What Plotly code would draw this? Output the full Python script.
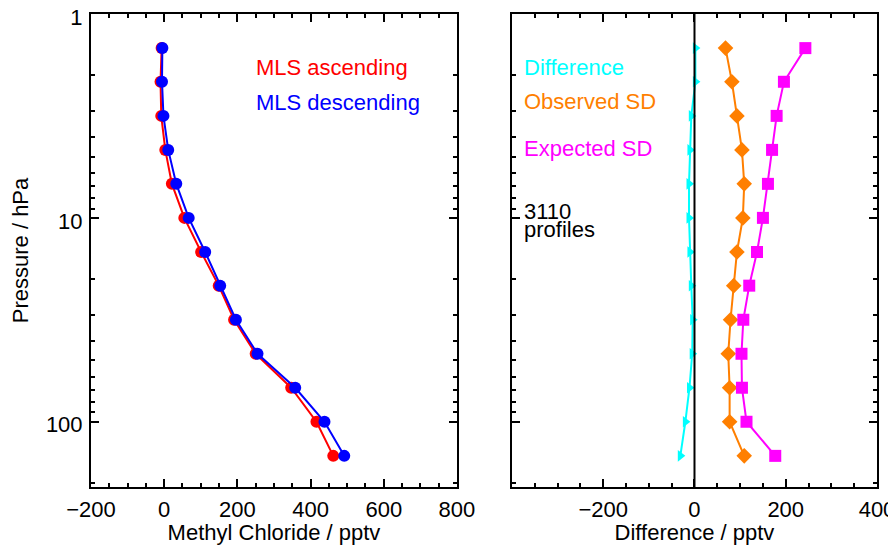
import math
import plotly.graph_objects as go

pressure = [1.47, 2.15, 3.16, 4.64, 6.81, 10.0, 14.7, 21.5, 31.6, 46.4, 68.1, 100.0, 147.0]
mls_ascending = [-7, -10, -8, 3, 21, 55, 101, 149, 191, 250, 347, 416, 462]
mls_descending = [-5, -6, -2, 11, 33, 67, 112, 153, 196, 255, 358, 438, 492]
difference = [2, 2, -7, -10, -12, -12, -10, -7, -4, -5, -11, -20, -31]
observed_sd = [68, 82, 93, 104, 109, 106, 93, 86, 79, 74, 77, 77, 109]
expected_sd = [243, 196, 180, 170, 161, 150, 137, 120, 107, 103, 104, 114, 177]

left_xticks = [-200, 0, 200, 400, 600, 800]
right_xticks = [-200, 0, 200, 400]
y_ticks = [1, 10, 100]
y_minor = [2, 3, 4, 5, 6, 7, 8, 9, 20, 30, 40, 50, 60, 70, 80, 90, 200]

FONT = "Liberation Sans, Arial, Helvetica, sans-serif"
fs = 22

fig = go.Figure()
fig.add_trace(go.Scatter(x=mls_ascending, y=pressure, mode="lines+markers",
                         line=dict(color="#FF0000", width=2),
                         marker=dict(symbol="circle", size=12, color="#FF0000"),
                         xaxis="x", yaxis="y", showlegend=False))
fig.add_trace(go.Scatter(x=mls_descending, y=pressure, mode="lines+markers",
                         line=dict(color="#0000FF", width=2),
                         marker=dict(symbol="circle", size=12, color="#0000FF"),
                         xaxis="x", yaxis="y", showlegend=False))
fig.add_trace(go.Scatter(x=difference, y=pressure, mode="lines+markers",
                         line=dict(color="#00FFFF", width=2),
                         marker=dict(symbol="triangle-right", size=10, color="#00FFFF"),
                         xaxis="x2", yaxis="y2", showlegend=False))
fig.add_trace(go.Scatter(x=observed_sd, y=pressure, mode="lines+markers",
                         line=dict(color="#FF7F00", width=2),
                         marker=dict(symbol="diamond", size=12, color="#FF7F00"),
                         xaxis="x2", yaxis="y2", showlegend=False))
fig.add_trace(go.Scatter(x=expected_sd, y=pressure, mode="lines+markers",
                         line=dict(color="#FF00FF", width=2),
                         marker=dict(symbol="square", size=12, color="#FF00FF"),
                         xaxis="x2", yaxis="y2", showlegend=False))

axis_common = dict(showline=True, linecolor="black", linewidth=2, mirror="allticks",
                   ticks="inside", ticklen=8, tickwidth=2, tickcolor="black",
                   showgrid=False, zeroline=False, automargin=False,
                   ticklabeloverflow="allow",
                   tickfont=dict(family=FONT, size=fs, color="black"))
minor_common = dict(ticks="inside", ticklen=4, tickwidth=2, tickcolor="black", showgrid=False)

ymin_log = 2.32
fig.update_layout(
    width=888, height=537,
    margin=dict(l=83, r=19, t=6, b=58),
    paper_bgcolor="white", plot_bgcolor="white",
    font=dict(family=FONT, size=fs, color="black"),
    xaxis=dict(domain=[0, 0.4656], range=[-200, 800], tickvals=left_xticks,
               minor=dict(dtick=50, tick0=0, **minor_common),
               title=dict(text="Methyl Chloride / pptv", font=dict(size=fs), standoff=0),
               anchor="y", ticklabelstandoff=2, **axis_common),
    yaxis=dict(type="log", range=[ymin_log, 0], tickvals=y_ticks, ticktext=["1", "10", "100"],
               minor=dict(tickvals=y_minor, **minor_common),
               title=dict(text="Pressure / hPa", font=dict(size=fs), standoff=12),
               anchor="x", ticklabelstandoff=2, ticklabelshift=-3, **axis_common),
    xaxis2=dict(domain=[0.5356, 1], range=[-400, 400], tickvals=right_xticks,
                minor=dict(dtick=50, tick0=0, **minor_common),
                title=dict(text="Difference / pptv", font=dict(size=fs), standoff=0),
                anchor="y2", ticklabelstandoff=2, **axis_common),
    yaxis2=dict(type="log", range=[ymin_log, 0], tickvals=y_ticks, showticklabels=False,
                minor=dict(tickvals=y_minor, **minor_common),
                anchor="x2", **axis_common),
)

fig.add_shape(type="line", xref="x2", yref="y2 domain", x0=0, x1=0, y0=0, y1=1,
              line=dict(color="black", width=2))

def label(text, x, y, color, xref, yref):
    fig.add_annotation(text=text, x=x, y=y, xref=xref, yref=yref, showarrow=False,
                       xanchor="left", yanchor="middle",
                       font=dict(family=FONT, size=fs, color=color))

label("MLS ascending", 245, math.log10(1.84), "#FF0000", "x", "y")
label("MLS descending", 245, math.log10(2.73), "#0000FF", "x", "y")
label("Difference", -377, math.log10(1.82), "#00FFFF", "x2", "y2")
label("Observed SD", -377, math.log10(2.70), "#FF7F00", "x2", "y2")
label("Expected SD", -377, math.log10(4.59), "#FF00FF", "x2", "y2")
label("3110", -377, math.log10(9.34), "black", "x2", "y2")
label("profiles", -377, math.log10(11.45), "black", "x2", "y2")

fig.write_html("out.html")
